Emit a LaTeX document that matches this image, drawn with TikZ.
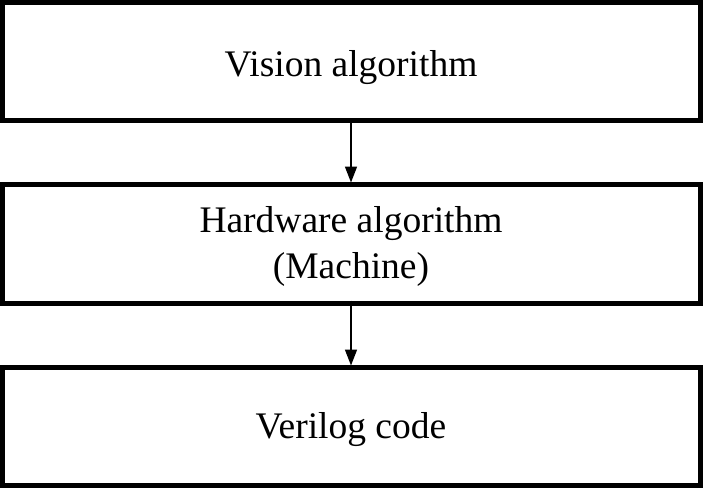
\documentclass[tikz,border=0pt]{standalone}
\usepackage{fontspec}
\setmainfont{Liberation Serif}
\usetikzlibrary{arrows.meta}
\begin{document}
\begin{tikzpicture}[x=1pt,y=-1pt,
  blockbox/.style={draw=black,line width=5pt,fill=white},
  lbl/.style={align=center,font=\fontsize{37.5}{46}\selectfont,inner sep=0pt,anchor=base},
  conn/.style={line width=1.6pt,-{Triangle[length=16pt,width=12pt]}}]
\useasboundingbox (0,0) rectangle (704,488);
\path[blockbox] (2.5,2.5) rectangle (700.5,120.5);
\path[blockbox] (2.5,184.5) rectangle (700.5,303);
\path[blockbox] (2.5,367.5) rectangle (700.5,485.5);
\coordinate (b1) at (351,118);
\coordinate (t2) at (351,182.5);
\coordinate (b2) at (351,300.5);
\coordinate (t3) at (351,365.5);
\node[lbl] (v) at (351,76) {Vision algorithm};
\node[lbl] (h) at (351,278) {Hardware algorithm\\(Machine)};
\node[lbl] (c) at (351,438) {Verilog code};
\draw[conn] (b1) -- (t2);
\draw[conn] (b2) -- (t3);
\end{tikzpicture}
\end{document}
